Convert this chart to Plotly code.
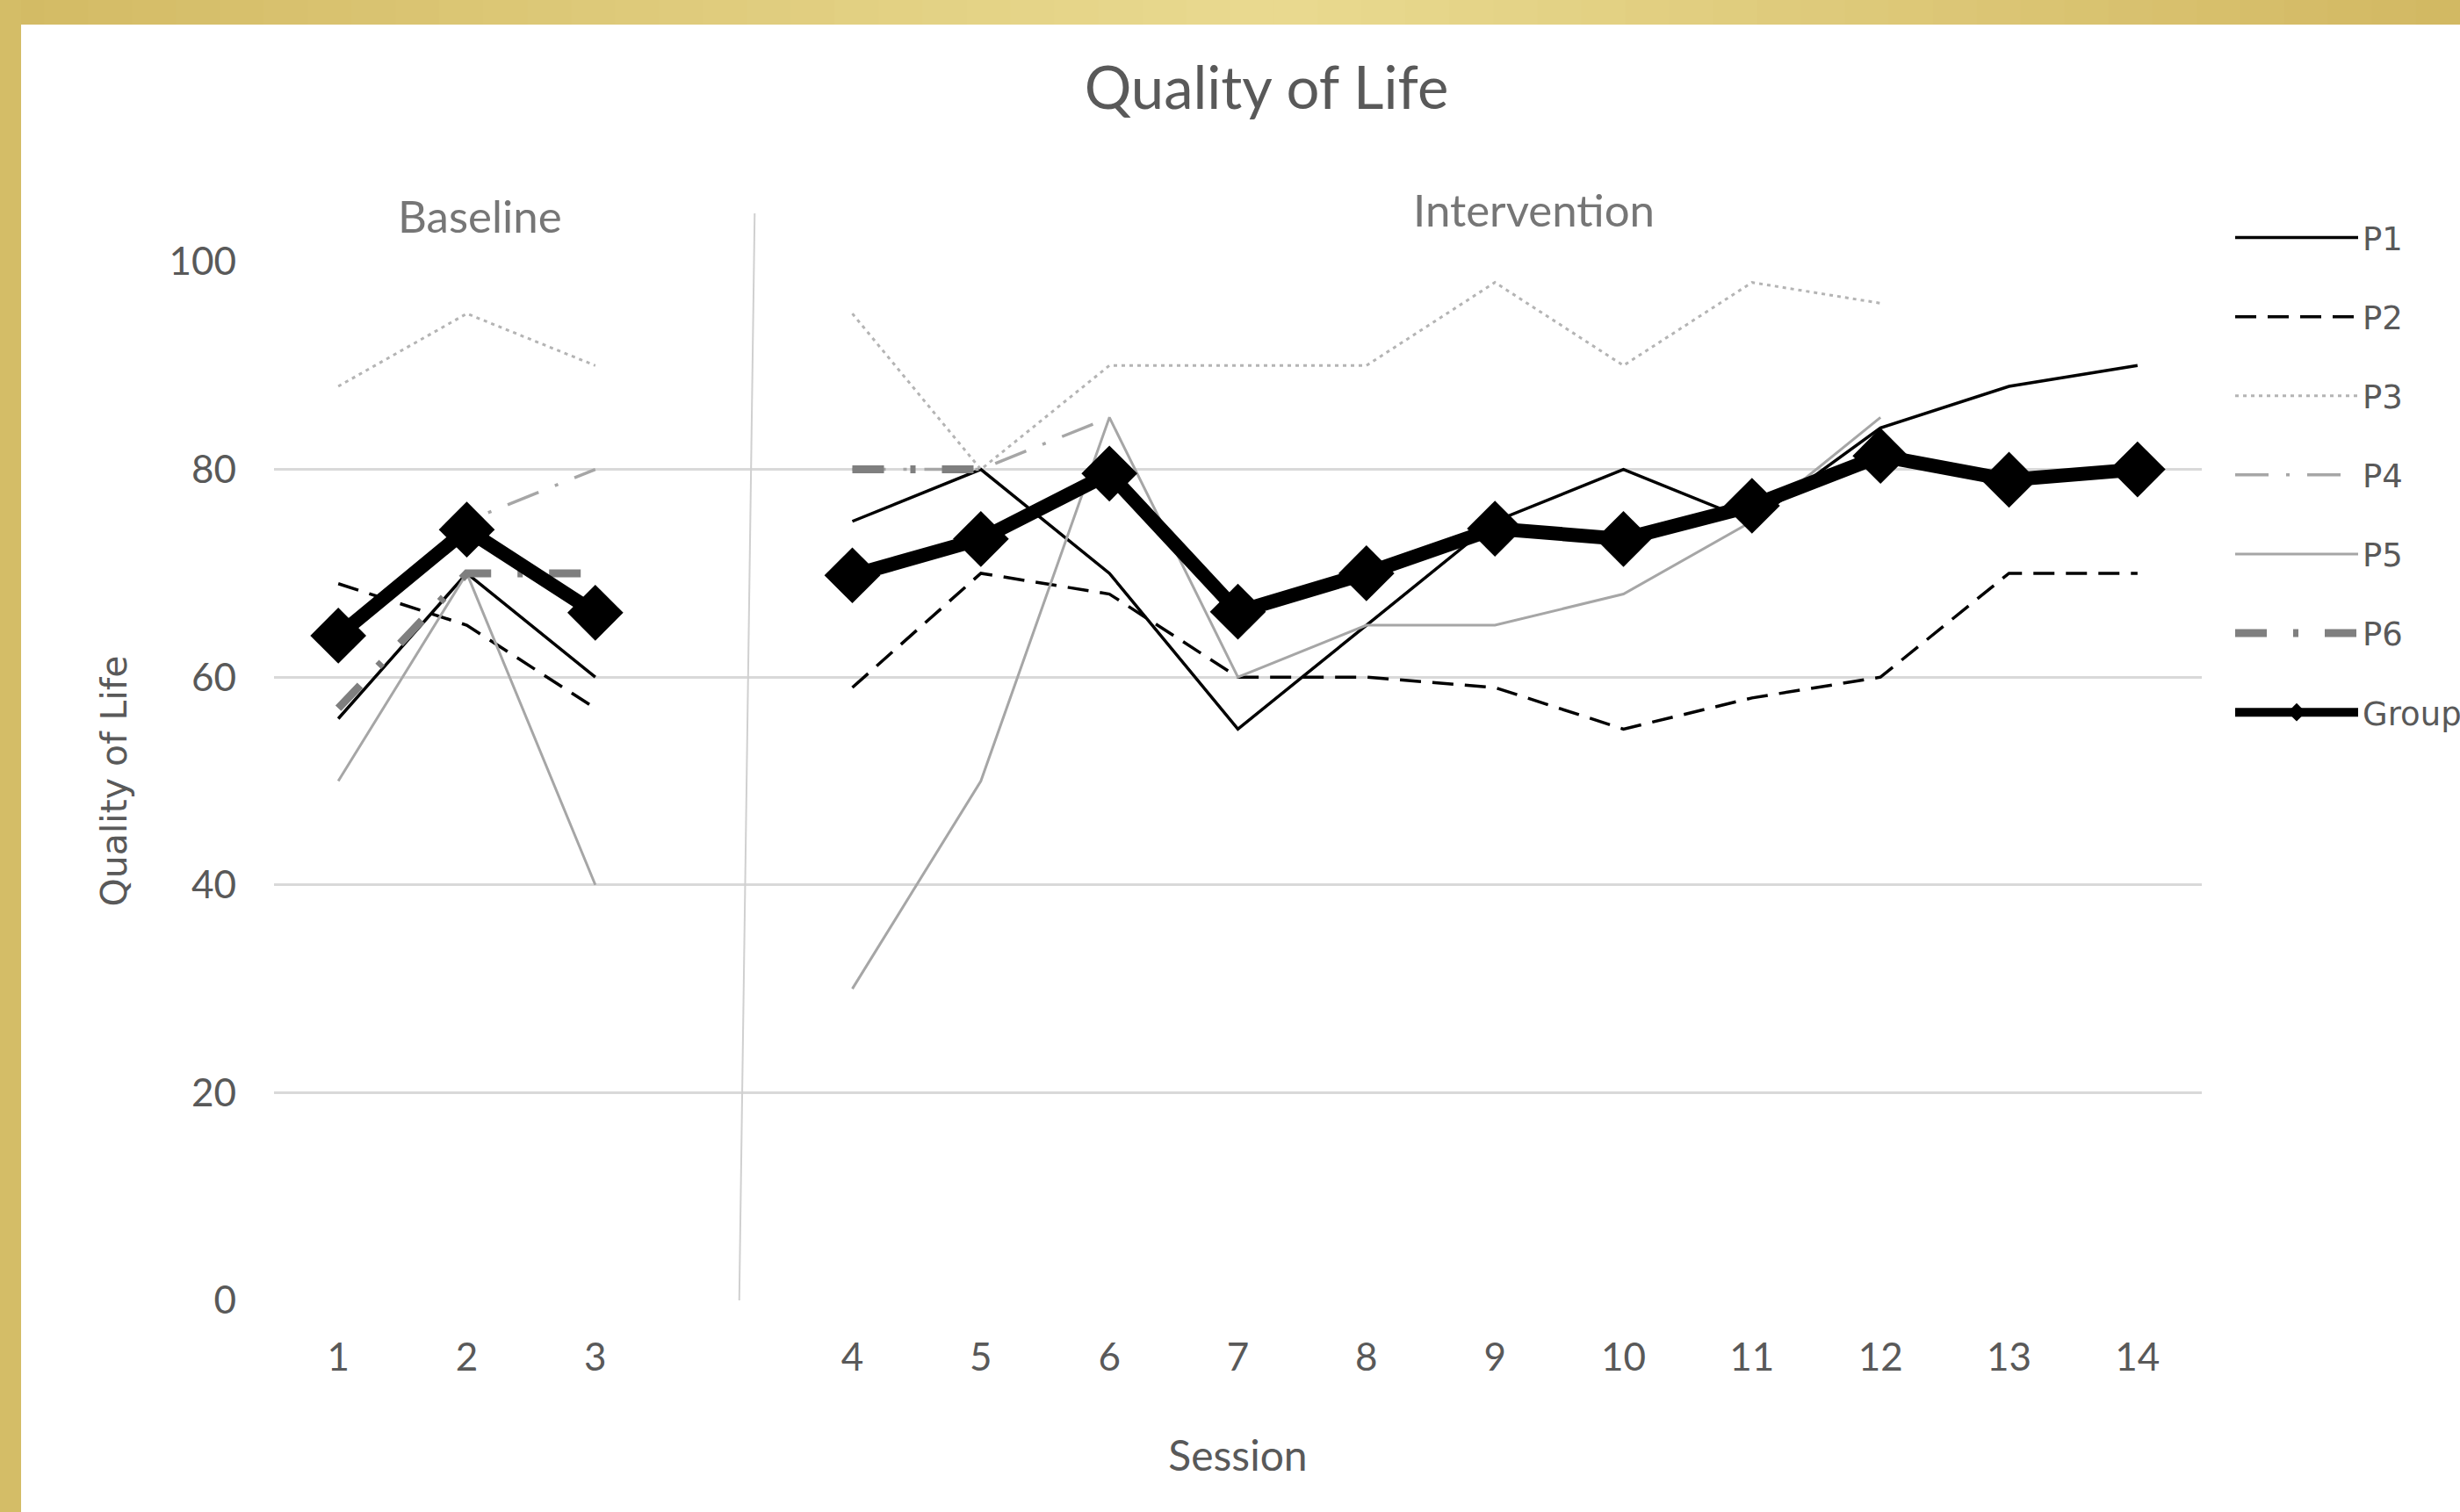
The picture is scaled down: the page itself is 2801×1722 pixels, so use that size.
import plotly.graph_objects as go

# ---------------- data ----------------
sessions = ["1", "2", "3", " ", "4", "5", "6", "7", "8", "9", "10", "11", "12", "13", "14"]
y_ticks = [0, 20, 40, 60, 80, 100]

p1 = [56, 70, 60, None, 75, 80, 70, 55, 65, 75, 80, 75, 84, 88, 90]
p2 = [69, 65, 57, None, 59, 70, 68, 60, 60, 59, 55, 58, 60, 70, 70]
p3 = [88, 95, 90, None, 95, 80, 90, 90, 90, 98, 90, 98, 96, None, None]
p4 = [64, 75, 80, None, 80, 80, 85, None, None, None, None, None, None, None, None]
p5 = [50, 70, 40, None, 30, 50, 85, 60, 65, 65, 68, 75, 85, None, None]
p6 = [57, 70, 70, None, 80, 80, None, None, None, None, None, None, None, None, None]
group = [64, 74.2, 66.2, None, 69.8, 73.3, 79.6, 66.3, 70, 74.3, 73.3, 76.5, 81.3, 79, 80]

series_names = ["P1", "P2", "P3", "P4", "P5", "P6", "Group"]
series_vals = [p1, p2, p3, p4, p5, p6, group]

# ---------------- layout geometry ----------------
W, H = 2801, 1722
ML, MR, MT, MB = 312, 294, 298, 241
PW = W - ML - MR
PH = H - MT - MB


def pxx(px):
    return (px - ML) / PW


def pxy(py):
    return (H - MB - py) / PH


styles = {
    "P1": dict(color="#000000", width=3.5, dash="solid"),
    "P2": dict(color="#000000", width=3.5, dash="24px,13px"),
    "P3": dict(color="#B4B4B4", width=3, dash="4px,5px"),
    "P4": dict(color="#A6A6A6", width=3.5, dash="38px,20px,4px,20px"),
    "P5": dict(color="#A6A6A6", width=3, dash="solid"),
    "P6": dict(color="#7F7F7F", width=9, dash="36px,30px,6px,30px"),
    "Group": dict(color="#000000", width=16, dash="solid"),
}

fig = go.Figure()
for name, vals in zip(series_names, series_vals):
    st = styles[name]
    tr = dict(
        x=sessions,
        y=vals,
        name=name,
        mode="lines",
        line=dict(color=st["color"], width=st["width"], dash=st["dash"]),
        legendgroup=name,
        hoverinfo="x+y+name",
    )
    if name == "Group":
        tr["mode"] = "lines+markers"
        tr["marker"] = dict(symbol="diamond", size=49, color="#000000", line=dict(width=0))
    fig.add_trace(go.Scatter(**tr))

# ---------------- decorations ----------------
shapes = []


def lerp(c1, c2, t):
    return tuple(int(round(a + (b - a) * t)) for a, b in zip(c1, c2))


# gold frame: top band with gradient and left strip
c_edge_l = (211, 186, 100)
c_mid = (233, 218, 144)
c_edge_r = (210, 184, 98)
n = 56
for i in range(n):
    x0 = i * W / n
    x1 = (i + 1) * W / n + 1
    xc = (x0 + x1) / 2
    if xc < 1450:
        c = lerp(c_edge_l, c_mid, xc / 1450)
    else:
        c = lerp(c_mid, c_edge_r, (xc - 1450) / (W - 1450))
    shapes.append(dict(type="rect", xref="paper", yref="paper",
                       x0=pxx(x0), x1=pxx(x1), y0=pxy(28), y1=pxy(0),
                       fillcolor="rgb(%d,%d,%d)" % c, line=dict(width=0), layer="above"))
shapes.append(dict(type="rect", xref="paper", yref="paper",
                   x0=pxx(0), x1=pxx(24), y0=pxy(H), y1=pxy(0),
                   fillcolor="rgb(212,189,103)", line=dict(width=0), layer="above"))
# phase change line
shapes.append(dict(type="line", xref="x", yref="paper",
                   x0=3.12, y0=0, x1=3.24, y1=pxy(243),
                   line=dict(color="#D0D0D0", width=2), layer="above"))

annotations = [
    dict(text="Baseline", xref="x", yref="paper", x=1.1, y=pxy(245),
         xanchor="center", yanchor="middle", showarrow=False,
         font=dict(family="Lato", size=51, color="#767676")),
    dict(text="Intervention", xref="x", yref="paper", x=9.3, y=pxy(238),
         xanchor="center", yanchor="middle", showarrow=False,
         font=dict(family="Lato", size=51, color="#767676")),
]

fig.update_layout(
    width=W, height=H,
    margin=dict(l=ML, r=MR, t=MT, b=MB, pad=0, autoexpand=False),
    paper_bgcolor="white", plot_bgcolor="white",
    title=dict(text="Quality of Life", x=1442 / W, xref="container", xanchor="center",
               y=1 - 101 / H, yref="container", yanchor="middle",
               font=dict(family="Lato", size=67, color="#595959")),
    xaxis=dict(type="category", categoryorder="array", categoryarray=sessions,
               range=[-0.5, 14.5], showgrid=False, zeroline=False, showline=False,
               ticks="", ticklabelstandoff=35,
               tickfont=dict(family="Lato", size=44, color="#595959"),
               title=dict(text="Session", standoff=72,
                          font=dict(family="Lato", size=48, color="#595959"))),
    yaxis=dict(range=[0, 100], tickvals=y_ticks, ticktext=[str(v) for v in y_ticks],
               showgrid=True, gridcolor="#D9D9D9", gridwidth=3, zeroline=False, showline=False,
               ticks="", ticklabelstandoff=42,
               tickfont=dict(family="Lato", size=44, color="#595959"),
               title=dict(text="Quality of Life", standoff=35,
                          font=dict(family="DejaVu Sans", size=41, color="#595959"))),
    legend=dict(x=pxx(2540), xanchor="left", y=pxy(240), yanchor="top",
                font=dict(family="DejaVu Sans", size=37, color="#595959"),
                itemwidth=140, tracegroupgap=39, bgcolor="rgba(0,0,0,0)",
                itemsizing="trace"),
    shapes=shapes,
    annotations=annotations,
    showlegend=True,
)

fig.write_html("out.html", config={"displayModeBar": False},
               post_script="document.body.style.margin='0';document.body.style.overflow='hidden';")
